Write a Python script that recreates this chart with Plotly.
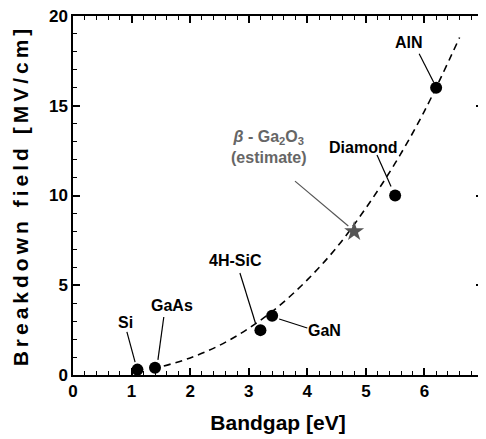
import plotly.graph_objects as go

# Materials (bandgap eV, breakdown field MV/cm)
materials = ["Si", "GaAs", "4H-SiC", "GaN", "Diamond", "AlN"]
bandgap = [1.1, 1.4, 3.2, 3.4, 5.5, 6.2]
field = [0.3, 0.4, 2.5, 3.3, 10.0, 16.0]

# beta-Ga2O3 estimate
ga2o3_bandgap = [4.8]
ga2o3_field = [8.0]

# dashed trend curve
trend_x = [1.55, 2.0, 2.5, 3.0, 3.5, 4.0, 4.5, 5.0, 5.5, 6.0, 6.6]
trend_y = [0.5, 0.95, 1.65, 2.6, 3.8, 5.3, 7.1, 9.3, 11.8, 14.7, 18.8]

# tick labels
x_ticks = [0, 1, 2, 3, 4, 5, 6, 7]
y_ticks = [0, 5, 10, 15, 20]

# label text positions and leader lines (data coords)
label_x = [0.89, 1.69, 2.77, 4.30, 4.95, 5.74]
label_y = [2.9, 3.9, 6.4, 2.5, 12.7, 18.5]
lead_x0 = [0.92, 1.55, 2.85, 3.52, 5.19, 5.91]
lead_y0 = [2.4, 3.23, 5.68, 3.12, 12.26, 17.9]
lead_x1 = [1.06, 1.45, 3.12, 4.0, 5.43, 6.16]
lead_y1 = [0.72, 0.84, 2.84, 2.62, 10.5, 16.3]

FONT = "Liberation Sans, Arial"

fig = go.Figure()
fig.add_trace(go.Scatter(x=trend_x, y=trend_y, mode="lines",
                         line=dict(color="black", width=1.6, dash="7px,5px", shape="spline"),
                         hoverinfo="skip", showlegend=False))
fig.add_trace(go.Scatter(x=bandgap, y=field, mode="markers", text=materials,
                         marker=dict(color="black", size=12, symbol="circle"),
                         showlegend=False))
fig.add_trace(go.Scatter(x=ga2o3_bandgap, y=ga2o3_field, mode="markers",
                         marker=dict(color="#555555", size=15, symbol="star"),
                         showlegend=False))

for i, name in enumerate(materials):
    fig.add_shape(type="line", x0=lead_x0[i], y0=lead_y0[i], x1=lead_x1[i], y1=lead_y1[i],
                  line=dict(color="black", width=1.2))
    fig.add_annotation(x=label_x[i], y=label_y[i], text="<b>" + name + "</b>", showarrow=False,
                       font=dict(family=FONT, size=16, color="black"))

fig.add_shape(type="line", x0=3.79, y0=10.8, x1=4.70, y1=8.3,
              line=dict(color="#555555", width=1.2))
fig.add_annotation(x=3.34, y=12.7,
                   text="<b><i>β</i> - Ga<sub>2</sub>O<sub>3</sub><br>(estimate)</b>",
                   showarrow=False, font=dict(family=FONT, size=16, color="#666666"))

axis_common = dict(showline=True, linecolor="black", linewidth=1.5, mirror="allticks",
                   ticks="inside", ticklen=7, tickwidth=1.5, tickcolor="black",
                   showgrid=False, zeroline=False, automargin=False,
                   ticklabeloverflow="allow", tickmode="array",
                   tickfont=dict(family=FONT, size=17, color="black", weight="bold"))

fig.update_xaxes(range=[0, 7], tickvals=x_ticks, ticktext=["<b>%d</b>" % v for v in x_ticks],
                 minor=dict(ticks="inside", ticklen=4, tickwidth=1.2, dtick=0.2, tick0=0, tickcolor="black", showgrid=False),
                 title=dict(text="<b>Bandgap [eV]</b>", font=dict(family=FONT, size=21, color="black")),
                 **axis_common)
fig.update_yaxes(range=[0, 20], tickvals=y_ticks, ticktext=["<b>%d</b>" % v for v in y_ticks],
                 minor=dict(ticks="inside", ticklen=4, tickwidth=1.2, dtick=1, tick0=0, tickcolor="black", showgrid=False),
                 title=dict(text="<b><span style='letter-spacing:4px'>Breakdown field [MV/cm]</span></b>",
                            font=dict(family=FONT, size=21, color="black")),
                 **axis_common)

fig.update_layout(width=486, height=439, margin=dict(l=65, r=11, t=8, b=72),
                  plot_bgcolor="white", paper_bgcolor="white",
                  font=dict(family=FONT, color="black"))
fig.write_html("out.html")
